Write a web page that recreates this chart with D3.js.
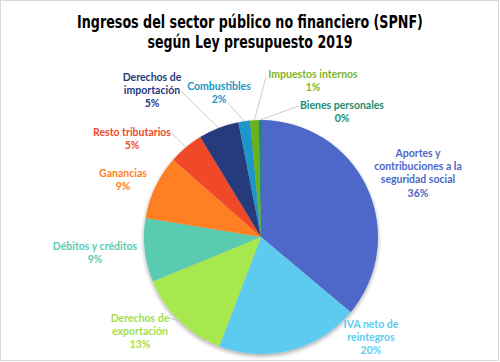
<!DOCTYPE html>
<html>
<head>
<meta charset="utf-8">
<script src="https://cdn.jsdelivr.net/npm/d3@7"></script>
<style>
  html, body { margin: 0; padding: 0; background: #fff; }
  svg { display: block; }
</style>
</head>
<body>
<svg id="chart" width="500" height="362"></svg>
<script>
// ---- DATA ----
const categories = [
  "Aportes y contribuciones a la seguridad social",
  "IVA neto de reintegros",
  "Derechos de exportación",
  "Débitos y créditos",
  "Ganancias",
  "Resto tributarios",
  "Derechos de importación",
  "Combustibles",
  "Impuestos internos",
  "Bienes personales"
];
const values = [36.1, 19.7, 13.0, 8.8, 8.9, 4.8, 5.6, 1.6, 1.2, 0.3];
const percentLabels = ["36%", "20%", "13%", "9%", "9%", "5%", "5%", "2%", "1%", "0%"];
const sliceColors = ["#4E67C8", "#5DCBF0", "#A8E84F", "#5ACBB1", "#FF8021", "#F0492A", "#263B7C", "#1A96C9", "#6BAE22", "#1E8C6E"];
const textColors  = ["#4E67C8", "#5DCBF0", "#A2DE4A", "#5ACBB1", "#FF8021", "#F0492A", "#263B7C", "#1A96C9", "#7BB52B", "#1E8C6E"];
const titleLines = ["Ingresos del sector público no financiero (SPNF)", "según Ley presupuesto 2019"];

// ---- LAYOUT (label placement, not data) ----
const labelLines = [
  ["Aportes y", "contribuciones a la", "seguridad social"],
  ["IVA neto de", "reintegros"],
  ["Derechos de", "exportación"],
  ["Débitos y créditos"],
  ["Ganancias"],
  ["Resto tributarios"],
  ["Derechos de", "importación"],
  ["Combustibles"],
  ["Impuestos internos"],
  ["Bienes personales"]
];
const labelPos = [[418, 153], [371, 324], [140, 318], [95, 246], [123, 173], [132, 132], [152, 77], [219, 86], [313, 74], [342, 105]];
const leaderStart = [null, null, [168, 318], null, null, [171, 132], [181, 91], [228, 103], [266, 77], [299, 106]];
const titleWidths = [346, 205];

const W = 500, H = 362;
const cx = 261, cy = 237, R = 117;
const lineH = 13.3;

const svg = d3.select("#chart");

// border
svg.append("rect").attr("x", 0.5).attr("y", 0.5).attr("width", W - 2).attr("height", H - 2)
  .attr("fill", "#fff").attr("stroke", "#d9d9d9").attr("stroke-width", 1);

// shadow filter
const defs = svg.append("defs");
const f = defs.append("filter").attr("id", "shadow").attr("x", "-20%").attr("y", "-20%").attr("width", "140%").attr("height", "140%");
f.append("feGaussianBlur").attr("in", "SourceAlpha").attr("stdDeviation", 2);
f.append("feOffset").attr("dx", 0).attr("dy", 2).attr("result", "ob");
f.append("feComponentTransfer").append("feFuncA").attr("type", "linear").attr("slope", 0.35);
const m = f.append("feMerge");
m.append("feMergeNode");
m.append("feMergeNode").attr("in", "SourceGraphic");

// title (condensed by horizontal scaling)
svg.append("g").selectAll("text").data(titleLines).join("text")
  .attr("x", 0).attr("y", 0)
  .attr("text-anchor", "middle")
  .style("font-family", "'DejaVu Sans', sans-serif")
  .style("font-weight", "bold")
  .style("font-size", "17px")
  .attr("fill", "#000")
  .text(d => d)
  .each(function (d, i) {
    const w = this.getComputedTextLength();
    const sx = titleWidths[i] / w;
    d3.select(this).attr("transform", `translate(250,${27.5 + i * 20}) scale(${sx},1)`);
  });

// pie
const data = categories.map((c, i) => ({ name: c, value: values[i], i }));
const pie = d3.pie().value(d => d.value).sort(null).startAngle(0).endAngle(2 * Math.PI);
const arcs = pie(data);
const arc = d3.arc().innerRadius(0).outerRadius(R);

const g = svg.append("g").attr("transform", `translate(${cx},${cy})`);
g.append("g").attr("filter", "url(#shadow)")
  .selectAll("path").data(arcs).join("path")
  .attr("d", arc)
  .attr("fill", d => sliceColors[d.data.i]);

// leader lines
const edgePoint = d => {
  const a = (d.startAngle + d.endAngle) / 2;
  return [cx + R * Math.sin(a), cy - R * Math.cos(a)];
};
svg.append("g").selectAll("polyline").data(arcs.filter(d => leaderStart[d.data.i])).join("polyline")
  .attr("points", d => {
    const s = leaderStart[d.data.i];
    const e = edgePoint(d);
    return [s, e].map(p => p.join(",")).join(" ");
  })
  .attr("fill", "none").attr("stroke", "#bfbfbf").attr("stroke-width", 0.8);

// labels
const lg = svg.append("g")
  .style("font-family", "Lato, 'Open Sans', sans-serif")
  .style("font-weight", "bold")
  .style("font-size", "10.5px");
arcs.forEach(d => {
  const i = d.data.i;
  const lines = labelLines[i].concat([percentLabels[i]]);
  const [x, y] = labelPos[i];
  const t = lg.append("text").attr("text-anchor", "middle").attr("fill", textColors[i]);
  lines.forEach((ln, k) => {
    t.append("tspan").attr("x", x).attr("y", y + k * lineH).attr("dy", "0.35em").text(ln);
  });
});
</script>
</body>
</html>
